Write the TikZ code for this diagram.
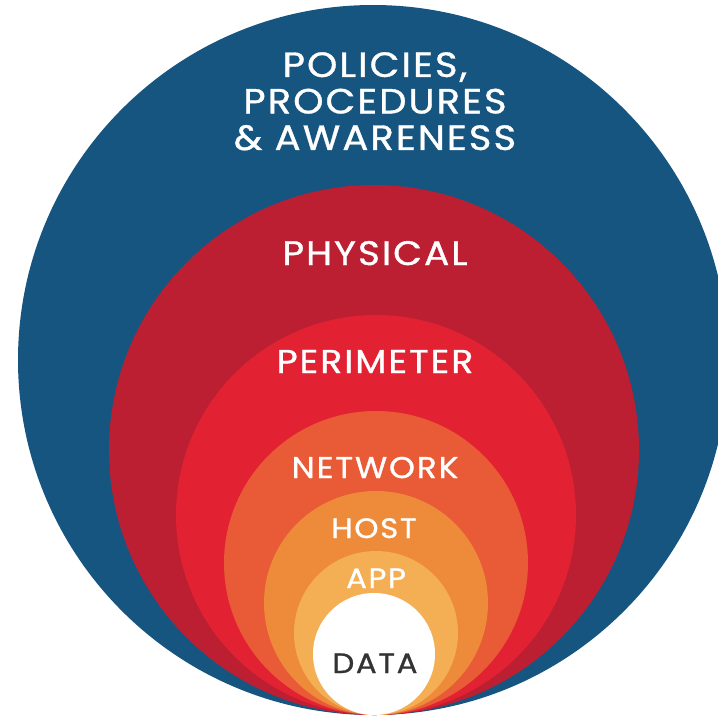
\documentclass[tikz,border=0pt]{standalone}
\usepackage{fontspec}
\setmainfont{Poppins}[FakeStretch=1.1, LetterSpace=6, FakeBold=1]

\definecolor{policyblue}{HTML}{16557F}
\definecolor{physicalred}{HTML}{BB1F31}
\definecolor{perimeterred}{HTML}{E22232}
\definecolor{networkorange}{HTML}{E85B36}
\definecolor{hostorange}{HTML}{EE8B3B}
\definecolor{appyellow}{HTML}{F4AE54}
\definecolor{datagray}{HTML}{333333}

\begin{document}
\begin{tikzpicture}[x=1pt, y=-1pt,
    layer/.style={circle, inner sep=0pt, outer sep=0pt, draw=none},
    caption/.style={text=white, inner sep=0pt, anchor=base}]
    \useasboundingbox (0,0) rectangle (718,721);
    \clip (0,0) rectangle (718,721);
    \fill[white] (0,0) rectangle (718,721);

    % layers, all touching at the bottom
    \node (policies) [layer, fill=policyblue, minimum size=710pt] at (373,360) {};
    \node (physical) [layer, fill=physicalred, minimum size=530pt] at (374,450) {};
    \node (perimeter) [layer, fill=perimeterred, minimum size=400pt] at (376,515) {};
    \node (network) [layer, fill=networkorange, minimum size=304pt] at (376,563) {};
    \node (host) [layer, fill=hostorange, minimum size=224pt] at (376,603) {};
    \node (app) [layer, fill=appyellow, minimum size=164pt] at (376,633) {};
    \node (data) [layer, fill=white, minimum size=122pt] at (374,654) {};

    % labels
    \node (policiestext) [caption, anchor=north, align=center,
        font=\fontsize{35}{36.5}\selectfont] at (375,52) {POLICIES,\\PROCEDURES\\\& AWARENESS};
    \node (physicaltext) [caption, font=\fontsize{34}{38}\selectfont] at (375,265) {PHYSICAL};
    \node (perimetertext) [caption, font=\fontsize{33}{37}\selectfont] at (375,373) {PERIMETER};
    \node (networktext) [caption, font=\fontsize{30}{34}\selectfont] at (375,478) {NETWORK};
    \node (hosttext) [caption, font=\fontsize{28}{32}\selectfont] at (374,538) {HOST};
    \node (apptext) [caption, font=\fontsize{28}{32}\selectfont] at (376,588) {APP};
    \node (datatext) [caption, text=datagray, font=\fontsize{28}{32}\selectfont] at (375,673) {DATA};
\end{tikzpicture}
\end{document}
